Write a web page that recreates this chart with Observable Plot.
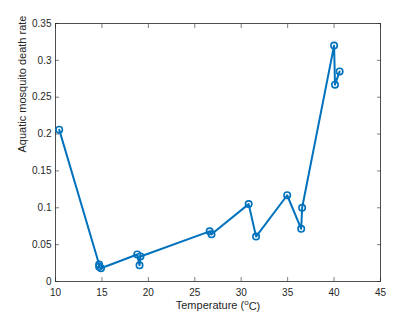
<!DOCTYPE html>
<html>
<head>
<meta charset="utf-8">
<script src="https://cdn.jsdelivr.net/npm/d3@7"></script>
<script src="https://cdn.jsdelivr.net/npm/@observablehq/plot@0.6"></script>
<style>
  html, body { margin: 0; padding: 0; background: #fff; }
  svg { display: block; }
</style>
</head>
<body>
<div id="chart"></div>
<script>
const temps = [10.4, 14.7, 14.7, 14.9, 18.8, 19.05, 19.15, 26.6, 26.8, 30.8, 31.6, 34.95, 36.46, 36.56, 40.0, 40.1, 40.6];
const rates = [0.206, 0.023, 0.020, 0.018, 0.0366, 0.022, 0.034, 0.068, 0.064, 0.105, 0.061, 0.117, 0.0715, 0.100, 0.320, 0.267, 0.285];
const xTicks = [10, 15, 20, 25, 30, 35, 40, 45];
const yTicks = [0, 0.05, 0.1, 0.15, 0.2, 0.25, 0.3, 0.35];
const xLabel = "Temperature (°C)";
const yLabel = "Aquatic mosquito death rate";

const data = temps.map((t, i) => ({t, r: rates[i]}));
const blue = "#0072BD";
const axisColor = "#262626";
const font = "Liberation Sans, Helvetica, Arial, sans-serif";

const chart = Plot.plot({
  width: 420,
  height: 315,
  marginLeft: 55,
  marginRight: 40,
  marginTop: 23,
  marginBottom: 34,
  style: {fontFamily: font, fontSize: "10px", color: axisColor, background: "#fff"},
  x: {domain: [10, 45], ticks: xTicks, label: null},
  y: {domain: [0, 0.35], ticks: yTicks, label: null},
  marks: [
    Plot.axisX(xTicks, {anchor: "bottom", tickSize: -4, tickPadding: 11, tickFormat: d => String(d), stroke: axisColor, fill: axisColor, strokeWidth: 0.6}),
    Plot.axisX(xTicks, {anchor: "top", tickSize: -4, tickFormat: () => "", stroke: axisColor, strokeWidth: 0.6}),
    Plot.axisY(yTicks, {anchor: "left", tickSize: -4, tickPadding: 8, tickFormat: d => String(d), stroke: axisColor, fill: axisColor, strokeWidth: 0.6}),
    Plot.axisY(yTicks, {anchor: "right", tickSize: -4, tickFormat: () => "", stroke: axisColor, strokeWidth: 0.6}),
    Plot.frame({stroke: axisColor, strokeWidth: 0.8}),
    Plot.line(data, {x: "t", y: "r", stroke: blue, strokeWidth: 2}),
    Plot.dot(data, {x: "t", y: "r", r: 3.2, stroke: blue, strokeWidth: 1.6, fill: "none"}),
    Plot.text([xLabel], {frameAnchor: "bottom", dy: 27, text: d => d, fontSize: 11, fill: axisColor}),
    Plot.text([yLabel], {frameAnchor: "left", dx: -33, rotate: -90, text: d => d, fontSize: 11, fill: axisColor})
  ]
});
document.getElementById("chart").appendChild(chart);

// superscript "o" as in the original label
d3.select(chart).selectAll("text").each(function() {
  const el = d3.select(this);
  const tsp = el.selectAll("tspan");
  const node = tsp.empty() ? el : d3.select(tsp.node());
  const txt = node.text();
  if (txt === xLabel) {
    node.text(null);
    node.append("tspan").text("Temperature (");
    node.append("tspan").attr("dy", "-0.45em").attr("font-size", "8px").text("o");
    node.append("tspan").attr("dy", "0.45em").text("C)");
  }
});
</script>
</body>
</html>
